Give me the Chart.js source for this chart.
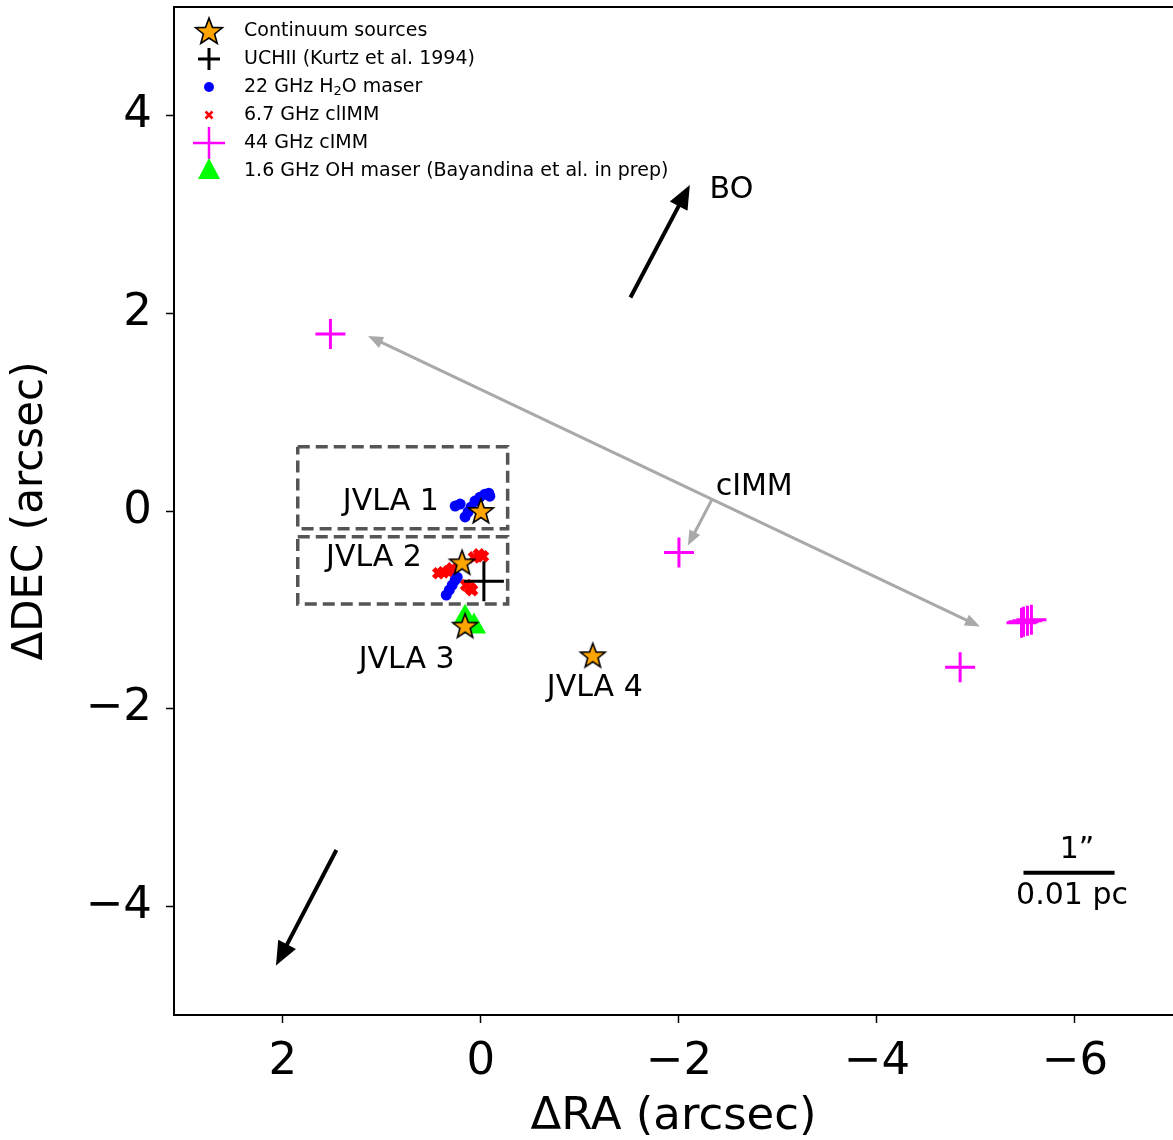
<!DOCTYPE html>
<html>
<head>
<meta charset="utf-8">
<script src="https://cdn.jsdelivr.net/npm/chart.js@4.4.1/dist/chart.umd.min.js"></script>
<style>
  html, body { margin: 0; padding: 0; background: #fff; }
  canvas { display: block; }
</style>
</head>
<body>
<canvas id="chart" width="1173" height="1140"></canvas>
<script>
// offsets in arcsec (RA, DEC)
const starRA  = [0.00, 0.19, 0.16, -1.13];
const starDEC = [0.00, -0.52, -1.16, -1.46];

const uchiiRA  = [-0.03];
const uchiiDEC = [-0.71];

const h2oRA  = [0.26, 0.21, 0.16, 0.13, 0.10, 0.06, 0.01, -0.04, -0.08, -0.09, 0.35, 0.32, 0.29, 0.26, 0.24];
const h2oDEC = [0.05, 0.07, -0.06, -0.01, 0.04, 0.10, 0.14, 0.17, 0.18, 0.15, -0.85, -0.80, -0.75, -0.70, -0.67];

const m67RA  = [0.43, 0.38, 0.33, 0.29, 0.07, 0.02, -0.02, 0.15, 0.11, 0.09];
const m67DEC = [-0.63, -0.62, -0.61, -0.58, -0.47, -0.44, -0.46, -0.75, -0.78, -0.80];

const m44RA  = [1.52, -2.00, -4.84, -5.46, -5.48, -5.52, -5.56];
const m44DEC = [1.79, -0.42, -1.58, -1.13, -1.12, -1.11, -1.10];

const ohRA  = [0.16, 0.07];
const ohDEC = [-1.08, -1.17];

const box1RA  = [1.85, -0.27, -0.27, 1.85, 1.85];
const box1DEC = [0.65, 0.65, -0.18, -0.18, 0.65];
const box2RA  = [1.85, -0.27, -0.27, 1.85, 1.85];
const box2DEC = [-0.26, -0.26, -0.94, -0.94, -0.26];

const xTicks = [2, 0, -2, -4, -6];
const yTicks = [4, 2, 0, -2, -4];

// arrows: [ra1, dec1, ra2, dec2]
const boArrows   = [[-1.51, 2.16, -2.11, 3.30], [1.46, -3.43, 2.07, -4.60]];
const cimmArrow  = [1.14, 1.77, -5.04, -1.17];
const cimmPointer = [-2.33, 0.11, -2.09, -0.35];
const scaleBar   = [-5.48, -3.66, -6.40, -3.66];

const labels = [
  ['JVLA 1', 0.91, 0.09],
  ['JVLA 2', 1.08, -0.48],
  ['JVLA 3', 0.75, -1.51],
  ['JVLA 4', -1.15, -1.79],
  ['BO', -2.53, 3.25],
  ['cIMM', -2.76, 0.24],
  ['1\u201D', -6.02, -3.43],
  ['0.01 pc', -5.97, -3.90]
];

const legendItems = ['Continuum sources', 'UCHII (Kurtz et al. 1994)', '22 GHz H|2|O maser',
  '6.7 GHz clIMM', '44 GHz cIMM', '1.6 GHz OH maser (Bayandina et al. in prep)'];

function pts(xs, ys) { return xs.map((x, i) => ({ x: x, y: ys[i] })); }

function makeStar(r) {
  const c = document.createElement('canvas');
  const s = Math.ceil(r * 2 + 4);
  c.width = s; c.height = s;
  const g = c.getContext('2d');
  g.beginPath();
  for (let i = 0; i < 10; i++) {
    const rr = i % 2 === 0 ? r : r * 0.42;
    const a = -Math.PI / 2 + i * Math.PI / 5;
    const px = s / 2 + rr * Math.cos(a), py = s / 2 + rr * Math.sin(a) + r * 0.08;
    if (i === 0) g.moveTo(px, py); else g.lineTo(px, py);
  }
  g.closePath();
  g.fillStyle = '#ffa500';
  g.fill();
  g.lineWidth = 1.6;
  g.strokeStyle = '#000';
  g.lineJoin = 'miter';
  g.stroke();
  return c;
}
const starImg = makeStar(13);
const starLegend = makeStar(14);

function drawArrow(ctx, x1, y1, x2, y2, color, lw, hl, hw, both) {
  const ang = Math.atan2(y2 - y1, x2 - x1);
  const head = (tx, ty, a) => {
    ctx.beginPath();
    ctx.moveTo(tx, ty);
    ctx.lineTo(tx - hl * Math.cos(a) + hw / 2 * Math.sin(a), ty - hl * Math.sin(a) - hw / 2 * Math.cos(a));
    ctx.lineTo(tx - hl * Math.cos(a) - hw / 2 * Math.sin(a), ty - hl * Math.sin(a) + hw / 2 * Math.cos(a));
    ctx.closePath();
    ctx.fill();
  };
  ctx.save();
  ctx.strokeStyle = color; ctx.fillStyle = color; ctx.lineWidth = lw;
  ctx.beginPath();
  const sx = both ? x1 + hl * 0.8 * Math.cos(ang) : x1;
  const sy = both ? y1 + hl * 0.8 * Math.sin(ang) : y1;
  ctx.moveTo(sx, sy);
  ctx.lineTo(x2 - hl * 0.8 * Math.cos(ang), y2 - hl * 0.8 * Math.sin(ang));
  ctx.stroke();
  head(x2, y2, ang);
  if (both) head(x1, y1, ang + Math.PI);
  ctx.restore();
}

const extras = {
  id: 'extras',
  afterDatasetsDraw(chart) {
    const ctx = chart.ctx, xs = chart.scales.x, ys = chart.scales.y;
    const X = v => xs.getPixelForValue(v), Y = v => ys.getPixelForValue(v);
    const a = chart.chartArea;

    // top frame line (no right frame in the figure)
    ctx.save();
    ctx.strokeStyle = '#000'; ctx.lineWidth = 2;
    ctx.beginPath(); ctx.moveTo(a.left, a.top); ctx.lineTo(a.right, a.top); ctx.stroke();
    ctx.restore();

    boArrows.forEach(r => drawArrow(ctx, X(r[0]), Y(r[1]), X(r[2]), Y(r[3]), '#000', 4, 24, 20, false));
    drawArrow(ctx, X(cimmArrow[0]), Y(cimmArrow[1]), X(cimmArrow[2]), Y(cimmArrow[3]), '#a9a9a9', 3, 15, 12, true);
    drawArrow(ctx, X(cimmPointer[0]), Y(cimmPointer[1]), X(cimmPointer[2]), Y(cimmPointer[3]), '#a9a9a9', 3, 15, 12, false);

    ctx.save();
    ctx.strokeStyle = '#000'; ctx.lineWidth = 4;
    ctx.beginPath();
    ctx.moveTo(X(scaleBar[0]), Y(scaleBar[1])); ctx.lineTo(X(scaleBar[2]), Y(scaleBar[3]));
    ctx.stroke();

    ctx.fillStyle = '#000';
    ctx.font = '30px "DejaVu Sans"';
    ctx.textAlign = 'center'; ctx.textBaseline = 'middle';
    labels.forEach(l => ctx.fillText(l[0], X(l[1]), Y(l[2])));
    ctx.restore();

    // legend
    ctx.save();
    const lx = 209, tx = 244;
    legendItems.forEach((t, i) => {
      const y = 31 + i * 28;
      if (i === 0) ctx.drawImage(starLegend, lx - starLegend.width / 2, y - starLegend.height / 2);
      if (i === 1 || i === 4) {
        const h = i === 1 ? 11 : 16;
        ctx.strokeStyle = i === 1 ? '#000' : '#ff00ff';
        ctx.lineWidth = i === 1 ? 3 : 2.5;
        ctx.beginPath();
        ctx.moveTo(lx - h, y); ctx.lineTo(lx + h, y);
        ctx.moveTo(lx, y - h); ctx.lineTo(lx, y + h);
        ctx.stroke();
      }
      if (i === 2) {
        ctx.fillStyle = '#0000ff';
        ctx.beginPath(); ctx.arc(lx, y, 5, 0, Math.PI * 2); ctx.fill();
      }
      if (i === 3) {
        ctx.strokeStyle = '#ff0000'; ctx.lineWidth = 2.5;
        ctx.beginPath();
        ctx.moveTo(lx - 3.5, y - 3.5); ctx.lineTo(lx + 3.5, y + 3.5);
        ctx.moveTo(lx + 3.5, y - 3.5); ctx.lineTo(lx - 3.5, y + 3.5);
        ctx.stroke();
      }
      if (i === 5) {
        ctx.fillStyle = '#00ff00';
        ctx.beginPath();
        ctx.moveTo(lx, y - 13); ctx.lineTo(lx + 11, y + 8); ctx.lineTo(lx - 11, y + 8);
        ctx.closePath(); ctx.fill();
      }
      ctx.fillStyle = '#000';
      ctx.textAlign = 'left'; ctx.textBaseline = 'middle';
      const parts = t.split('|');
      let cx = tx;
      parts.forEach((p, k) => {
        if (k === 1) {
          ctx.font = '13px "DejaVu Sans"';
          ctx.fillText(p, cx, y + 5);
        } else {
          ctx.font = '19px "DejaVu Sans"';
          ctx.fillText(p, cx, y);
        }
        cx += ctx.measureText(p).width;
      });
    });
    ctx.restore();
  }
};

const tickFmt = v => String(v).replace('-', '\u2212');
const noPad = s => { s.paddingTop = 0; s.paddingBottom = 0; s.paddingLeft = 0; s.paddingRight = 0; };

new Chart(document.getElementById('chart'), {
  type: 'scatter',
  data: {
    datasets: [
      { label: 'Continuum sources', data: pts(starRA, starDEC), pointStyle: starImg, order: 0 },
      { label: 'UCHII', data: pts(uchiiRA, uchiiDEC), pointStyle: 'cross', pointRadius: 20,
        borderColor: '#000', borderWidth: 3, order: 1 },
      { label: 'OH', data: pts(ohRA, ohDEC), pointStyle: 'triangle', pointRadius: 14,
        backgroundColor: '#00ff00', borderColor: '#00ff00', borderWidth: 0, order: 2 },
      { label: '44 GHz', data: pts(m44RA, m44DEC), pointStyle: 'cross', pointRadius: 15,
        borderColor: '#ff00ff', borderWidth: 3, order: 3 },
      { label: 'H2O', data: pts(h2oRA, h2oDEC), pointStyle: 'circle', pointRadius: 5.5,
        backgroundColor: '#0000ff', borderColor: '#0000ff', borderWidth: 0, order: 4 },
      { label: '6.7 GHz', data: pts(m67RA, m67DEC), pointStyle: 'crossRot', pointRadius: 6.5,
        borderColor: '#ff0000', borderWidth: 5, order: 5 },
      { label: 'box1', data: pts(box1RA, box1DEC), showLine: true, pointRadius: 0,
        borderColor: '#555555', borderWidth: 3.5, borderDash: [12, 6], order: 6 },
      { label: 'box2', data: pts(box2RA, box2DEC), showLine: true, pointRadius: 0,
        borderColor: '#555555', borderWidth: 3.5, borderDash: [12, 6], order: 7 }
    ]
  },
  options: {
    responsive: false,
    animation: false,
    events: [],
    layout: { autoPadding: false, padding: { top: 7, left: 0, right: 0, bottom: 0 } },
    plugins: { legend: { display: false }, tooltip: { enabled: false } },
    scales: {
      x: {
        type: 'linear', reverse: true, min: -6.99, max: 3.10,
        afterBuildTicks: s => { s.ticks = xTicks.map(v => ({ value: v })); },
        afterFit: s => { s.height = 125; noPad(s); },
        grid: { drawOnChartArea: false, drawTicks: true, tickLength: 8, tickWidth: 1.5, tickColor: '#000' },
        border: { display: true, color: '#000', width: 2 },
        ticks: { color: '#000', font: { family: 'DejaVu Sans', size: 45 }, padding: 12, callback: tickFmt, maxRotation: 0 },
        title: { display: true, text: '\u0394RA (arcsec)', color: '#000',
                 font: { family: 'DejaVu Sans', size: 45 }, padding: { top: 0, bottom: -4 } }
      },
      y: {
        type: 'linear', min: -5.10, max: 5.10,
        afterBuildTicks: s => { s.ticks = yTicks.map(v => ({ value: v })); },
        afterFit: s => { s.width = 174; noPad(s); },
        grid: { drawOnChartArea: false, drawTicks: true, tickLength: 8, tickWidth: 1.5, tickColor: '#000' },
        border: { display: true, color: '#000', width: 2 },
        ticks: { color: '#000', font: { family: 'DejaVu Sans', size: 45 }, padding: 14, callback: tickFmt },
        title: { display: true, text: '\u0394DEC (arcsec)', color: '#000',
                 font: { family: 'DejaVu Sans', size: 42 }, padding: { top: 6, bottom: 0 } }
      }
    }
  },
  plugins: [extras]
});
</script>
</body>
</html>
